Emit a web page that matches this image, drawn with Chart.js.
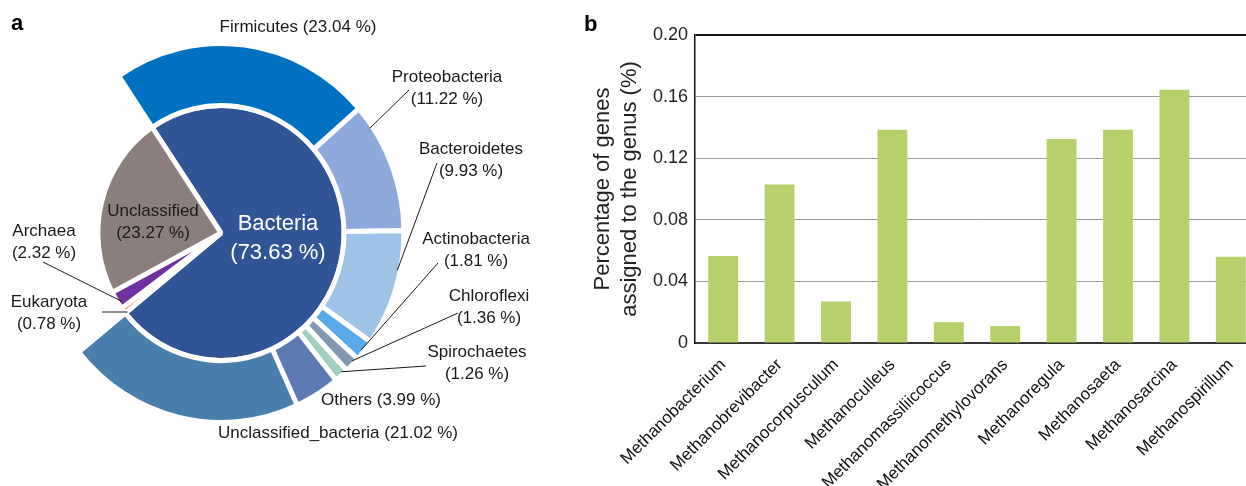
<!DOCTYPE html>
<html>
<head>
<meta charset="utf-8">
<script src="https://cdn.jsdelivr.net/npm/chart.js@4"></script>
<style>
  html, body { margin: 0; padding: 0; background: #fff; overflow: hidden; width: 1246px; height: 486px; }
  #pie  { position: absolute; left: 0; top: 0; }
  #bars { position: absolute; left: 560px; top: 0; }
</style>
</head>
<body>
<canvas id="pie" width="560" height="486"></canvas>
<canvas id="bars" width="700" height="486"></canvas>
<script>
// ---- Panel a: domain composition (inner pie) ----
const domainNames  = ['Bacteria', 'Eukaryota', 'Archaea', 'Unclassified'];
const domainShares = [73.63, 0.78, 2.32, 23.27];
const domainColors = ['#2F5597', '#ED7D31', '#7030A0', '#8C7E7C'];

// ---- Panel a: bacterial phyla (outer ring over the Bacteria sector) ----
const phylumNames  = ['Firmicutes', 'Proteobacteria', 'Bacteroidetes', 'Actinobacteria',
                      'Chloroflexi', 'Spirochaetes', 'Others', 'Unclassified_bacteria'];
const phylumShares = [23.04, 11.22, 9.93, 1.81, 1.36, 1.26, 3.99, 21.02];
const phylumColors = ['#0070C0', '#8EA9DB', '#9DC3E6', '#59A9EB',
                      '#8497B0', '#A0CFC0', '#5B7AB4', '#4A7EAD'];

// ---- Panel b: methanogen genera ----
const genera = ['Methanobacterium', 'Methanobrevibacter', 'Methanocorpusculum', 'Methanoculleus',
                'Methanomassiliicoccus', 'Methanomethylovorans', 'Methanoregula', 'Methanosaeta',
                'Methanosarcina', 'Methanospirillum'];
const genePercent = [0.0565, 0.103, 0.027, 0.1385, 0.0135, 0.011, 0.1325, 0.1385, 0.1645, 0.056];
const yTicks = [0, 0.04, 0.08, 0.12, 0.16, 0.20];

const FONT = '"Liberation Sans", Arial, Helvetica, sans-serif';
Chart.defaults.font.family = FONT;

const fmtShare = v => v.toFixed(2) + ' %';

// The pie is drawn slightly narrower than tall.
const PIE_SQUASH_X = 0.965;

// Label layout for panel a: text centre positions, optional leader line
// running from the label to a point on the slice (fraction t along its arc).
const ringCallouts = [
  { i: 0, oneLine: true, x: 298, y: 27 },
  { i: 1, x: 447, y: 77,  from: [409, 90],  t: 0.17 },
  { i: 2, x: 471, y: 149, from: [437, 163], t: 0.34 },
  { i: 3, x: 476, y: 239, from: [438, 263], t: 0.58 },
  { i: 4, x: 489, y: 296, from: [458, 313], t: 0.35 },
  { i: 5, x: 477, y: 352, from: [426, 366], t: 0.35 },
  { i: 6, oneLine: true, x: 381, y: 400 },
  { i: 7, oneLine: true, x: 338, y: 433 }
];
const domainCallouts = [
  { i: 2, x: 44, y: 231, from: [43, 262],  t: 0.3 },
  { i: 1, x: 49, y: 302, from: [102, 312], t: 0.2, flat: true }
];

function arcPoint(arc, t, inset) {
  const a = arc.startAngle + (arc.endAngle - arc.startAngle) * t;
  const r = arc.outerRadius - inset;
  return [arc.x + r * Math.cos(a) * PIE_SQUASH_X, arc.y + r * Math.sin(a)];
}

function drawLines(ctx, lines, x, y, gap) {
  lines.forEach((s, k) => ctx.fillText(s, x, y + k * gap));
}

// Narrows the arcs horizontally around the pie centre.
const pieSquash = {
  id: 'pieSquash',
  beforeDatasetsDraw(chart) {
    const ctx = chart.ctx;
    const cx = (chart.chartArea.left + chart.chartArea.right) / 2;
    ctx.save();
    ctx.translate(cx, 0);
    ctx.scale(PIE_SQUASH_X, 1);
    ctx.translate(-cx, 0);
  },
  afterDatasetsDraw(chart) {
    chart.ctx.restore();
  }
};

const pieText = {
  id: 'pieText',
  afterDraw(chart) {
    const ctx = chart.ctx;
    const ring = chart.getDatasetMeta(0).data;
    const core = chart.getDatasetMeta(1).data;
    ctx.save();
    ctx.textAlign = 'center';
    ctx.textBaseline = 'middle';
    ctx.fillStyle = '#1a1a1a';
    ctx.strokeStyle = '#1a1a1a';
    ctx.lineWidth = 1;
    ctx.font = '17px ' + FONT;

    ringCallouts.forEach(c => {
      const name = phylumNames[c.i], val = '(' + fmtShare(phylumShares[c.i]) + ')';
      if (c.oneLine) {
        ctx.fillText(name + ' ' + val, c.x, c.y);
      } else {
        drawLines(ctx, [name, val], c.x, c.y, 22);
        const p = arcPoint(ring[c.i], c.t, 3);
        ctx.beginPath(); ctx.moveTo(c.from[0], c.from[1]); ctx.lineTo(p[0], p[1]); ctx.stroke();
      }
    });

    domainCallouts.forEach(c => {
      drawLines(ctx, [domainNames[c.i], '(' + fmtShare(domainShares[c.i]) + ')'], c.x, c.y, 22);
      const p = arcPoint(core[c.i], c.t, 4);
      ctx.beginPath(); ctx.moveTo(c.from[0], c.from[1]);
      ctx.lineTo(p[0], c.flat ? c.from[1] : p[1]); ctx.stroke();
    });

    // in-slice labels
    drawLines(ctx, [domainNames[3], '(' + fmtShare(domainShares[3]) + ')'], 153, 211, 22);
    ctx.fillStyle = '#ffffff';
    ctx.font = '22px ' + FONT;
    drawLines(ctx, [domainNames[0], '(' + fmtShare(domainShares[0]) + ')'], 278, 224, 29);

    // panel tag
    ctx.fillStyle = '#000';
    ctx.textAlign = 'left';
    ctx.textBaseline = 'alphabetic';
    ctx.font = 'bold 22px ' + FONT;
    ctx.fillText('a', 11, 30);
    ctx.restore();
  }
};

const nonBacterial = domainShares.slice(1).reduce((a, b) => a + b, 0);

new Chart(document.getElementById('pie'), {
  type: 'doughnut',
  data: {
    datasets: [
      {
        data: [...phylumShares, nonBacterial],
        backgroundColor: [...phylumColors, 'rgba(0,0,0,0)'],
        borderColor: '#ffffff',
        borderWidth: [...phylumShares.map(() => 5), 0],
        weight: 62
      },
      {
        data: domainShares,
        backgroundColor: domainColors,
        borderColor: '#ffffff',
        borderWidth: 5,
        weight: 127.5
      }
    ]
  },
  options: {
    responsive: false,
    animation: false,
    rotation: -34,
    cutout: 0,
    radius: 189.5,
    layout: { padding: { left: 0, top: 0, right: 118, bottom: 20 } },
    plugins: { legend: { display: false }, tooltip: { enabled: false } }
  },
  plugins: [pieSquash, pieText]
});

// ---- Panel b ----
const panelTagB = {
  id: 'panelTagB',
  afterDraw(chart) {
    const ctx = chart.ctx;
    ctx.save();
    ctx.fillStyle = '#000';
    ctx.font = 'bold 22px ' + FONT;
    ctx.textAlign = 'left';
    ctx.textBaseline = 'alphabetic';
    ctx.fillText('b', 24, 31);
    ctx.restore();
  }
};

new Chart(document.getElementById('bars'), {
  type: 'bar',
  data: {
    labels: genera,
    datasets: [{
      data: genePercent,
      backgroundColor: '#B6D06B',
      categoryPercentage: 1,
      barPercentage: 0.53
    }]
  },
  options: {
    responsive: false,
    animation: false,
    layout: { padding: { left: 0, top: 35, right: 1, bottom: 0 } },
    plugins: { legend: { display: false }, tooltip: { enabled: false } },
    scales: {
      x: {
        grid: { display: false, drawTicks: false },
        border: { display: true, color: '#333333', width: 2 },
        ticks: {
          color: '#111111',
          font: { size: 17 },
          minRotation: 45,
          maxRotation: 45,
          autoSkip: false,
          padding: 12
        },
        afterFit: s => { s.height = 143; }
      },
      y: {
        min: 0,
        max: 0.2,
        afterBuildTicks: s => { s.ticks = yTicks.map(v => ({ value: v })); },
        grid: {
          drawTicks: false,
          color: c => (c.tick && c.tick.value === 0.2) ? '#111111' : '#9a9a9a',
          lineWidth: c => (c.tick && c.tick.value === 0.2) ? 2 : 1
        },
        border: { display: true, color: '#111111', width: 1.5 },
        ticks: {
          color: '#231F20',
          font: { size: 18 },
          padding: 7,
          callback: v => v === 0 ? '0' : v.toFixed(2)
        },
        title: {
          display: true,
          text: ['Percentage of genes', 'assigned to the genus (%)'],
          color: '#231F20',
          font: { size: 22, lineHeight: 1.23 },
          padding: { top: 29.5, bottom: 0 }
        },
        afterFit: s => { s.width = 135; }
      }
    }
  },
  plugins: [panelTagB]
});
</script>
</body>
</html>
